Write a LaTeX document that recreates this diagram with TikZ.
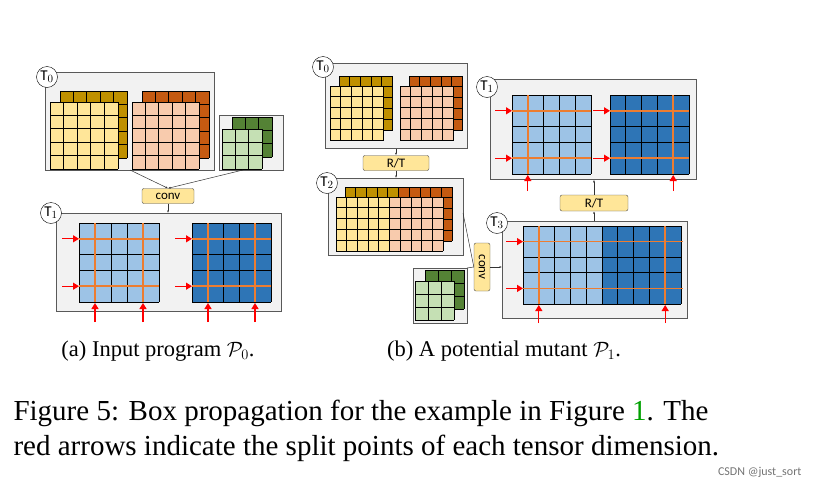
\documentclass[tikz,border=0pt]{standalone}
\usepackage{fontspec}
\usepackage{graphicx}
\setmainfont{Liberation Serif}
\newfontfamily\dfont{Carlito}
\usetikzlibrary{arrows.meta}
\definecolor{ylight}{HTML}{FFE699}\definecolor{ydark}{HTML}{BF9000}
\definecolor{plight}{HTML}{F8CBAD}\definecolor{pdark}{HTML}{C55A11}
\definecolor{glight}{HTML}{C5E0B4}\definecolor{gdark}{HTML}{548235}
\definecolor{lb}{HTML}{9DC3E6}\definecolor{db}{HTML}{2E75B6}
\definecolor{og}{HTML}{ED7D31}\definecolor{bx}{HTML}{F2F2F2}
\definecolor{lnk}{HTML}{00A000}
\tikzset{
 gl/.style={black,line width=0.8pt},
 ol/.style={og,line width=1.6pt},
 box/.style={draw=black!65,fill=bx,line width=0.8pt,anchor=north west,inner sep=0pt},
 tl/.style={draw=black,fill=white,circle,minimum size=21pt,inner sep=0pt,font=\dfont\fontsize{15}{17}\selectfont},
 op/.style={draw=black!70,fill=ylight,rounded corners=2pt,font=\dfont\fontsize{13}{15}\selectfont,minimum height=15pt,inner sep=1pt},
 ln/.style={black!80,line width=0.5pt},
 ar/.style={black!80,line width=0.5pt,-{Latex[length=2.5pt,width=2pt]}},
 ra/.style={red,line width=1.3pt,-{Triangle[length=6pt,width=7pt]}},
}
\newcommand\cgrid[7]{%
 \fill[#7] (#1,#2) rectangle ++({#3*#5},{#4*#6});
 \foreach \i in {0,...,#3} \draw[gl] ({#1+\i*#5},#2) -- ++(0,{#4*#6});
 \foreach \j in {0,...,#4} \draw[gl] (#1,{#2+\j*#6}) -- ++({#3*#5},0);}
\begin{document}
\begin{tikzpicture}[x=1pt,y=-1pt]
\useasboundingbox (0,0) rectangle (813,490);
% ===== left panel =====
\node[box,minimum width=169pt,minimum height=98pt] (a0) at (45,72) {};
\cgrid{60}{91}{5}{5}{13.4}{13.4}{ydark}
\cgrid{50}{102}{5}{5}{13.6}{13.4}{ylight}
\cgrid{142}{91}{5}{5}{13.4}{13.4}{pdark}
\cgrid{132}{102}{5}{5}{13.4}{13.4}{plight}
\node[box,minimum width=64pt,minimum height=55pt] (ag) at (219,115) {};
\cgrid{232}{117}{3}{3}{13.3}{13.3}{gdark}
\cgrid{222}{129}{3}{3}{13.3}{13.3}{glight}
\node[tl] (a0l) at (47,77) {T$_0$};
\node[op,minimum width=52pt] (aconv) at (168,196) {conv};
\coordinate (a0b) at (130,170);
\coordinate (agb) at (243,170);
\draw[ar] (a0b) -- (aconv.north);
\draw[ar] (agb) -- (aconv.north);
\node[box,minimum width=225pt,minimum height=98pt] (a1) at (56,213) {};
\draw[ar] (aconv.south) -- (aconv.south |- a1.north);
\cgrid{79}{223}{5}{5}{16}{15.8}{lb}
\cgrid{192}{223}{5}{5}{15.8}{15.8}{db}
\foreach \y in {238.8,286.2}{
 \draw[ol] (79,\y) -- (159,\y); \draw[ol] (192,\y) -- (271,\y);
 \draw[ra] (62,\y) -- (79,\y); \draw[ra] (175,\y) -- (192,\y);}
\foreach \x in {95,143,208,255}{
 \draw[ol] (\x,223) -- (\x,302); \draw[ra] (\x,322) -- (\x,303);}
\node[tl] (a1l) at (51,213) {T$_1$};
% ===== right panel =====
\node[box,minimum width=142pt,minimum height=85pt] (b0) at (325,63) {};
\cgrid{339}{76}{5}{5}{10.7}{10.8}{ydark}
\cgrid{330}{86}{5}{5}{10.7}{10.8}{ylight}
\cgrid{409}{76}{5}{5}{10.7}{10.8}{pdark}
\cgrid{400}{86}{5}{5}{10.7}{10.8}{plight}
\node[tl] (b0l) at (323,67) {T$_0$};
\node[op,minimum width=66pt] (brt1) at (396,163) {R/T};
\node[box,minimum width=135pt,minimum height=77pt] (b2) at (328,178) {};
\draw[ar] (brt1.north |- b0.south) -- (brt1.north);
\draw[ar] (brt1.south) -- (brt1.south |- b2.north);
\cgrid{345}{187}{5}{5}{10.7}{10.8}{ydark}
\cgrid{398.5}{187}{5}{5}{10.7}{10.8}{pdark}
\cgrid{336}{197}{5}{5}{10.7}{10.8}{ylight}
\cgrid{389.5}{197}{5}{5}{10.7}{10.8}{plight}
\node[tl] (b2l) at (327,183) {T$_2$};
\node[box,minimum width=54pt,minimum height=55pt] (bg) at (413,268) {};
\cgrid{425}{270}{3}{3}{13}{13}{gdark}
\cgrid{415}{281}{3}{3}{13}{13}{glight}
\node[op,minimum width=16pt,minimum height=48pt] (bconv) at (482,267) {\rotatebox{-90}{conv}};
\coordinate (b2r) at (463,213);
\coordinate (bgr) at (467,268);
\draw[ln] (b2r) -- (bconv.west);
\draw[ln] (bgr) -- (bconv.west);
\node[box,minimum width=185pt,minimum height=97pt] (b3) at (502,221) {};
\draw[ar] (bconv.east) -- (bconv.east -| b3.west);
\cgrid{523}{226}{5}{5}{15.8}{15.6}{lb}
\cgrid{602}{226}{5}{5}{15.8}{15.6}{db}
\foreach \y in {241.6,288.4}{
 \draw[ol] (523,\y) -- (683,\y); \draw[ra] (506,\y) -- (523,\y);}
\foreach \x in {538.8,665.2}{
 \draw[ol] (\x,226) -- (\x,304); \draw[ra] (\x,323) -- (\x,305);}
\node[tl] (b3l) at (497,223) {T$_3$};
\node[box,minimum width=206pt,minimum height=100pt] (b1) at (490,79) {};
\node[op,minimum width=68pt,minimum height=16pt] (brt2) at (594,203) {R/T};
\draw[ar] (brt2.south |- b3.north) -- (brt2.south);
\draw[ar] (brt2.north) -- (brt2.north |- b1.south);
\cgrid{512}{95}{5}{5}{15.8}{15.8}{lb}
\cgrid{610}{95}{5}{5}{15.8}{15.8}{db}
\foreach \y in {110.8,158.2}{
 \draw[ol] (512,\y) -- (591,\y); \draw[ol] (610,\y) -- (689,\y);
 \draw[ra] (495,\y) -- (512,\y); \draw[ra] (593,\y) -- (610,\y);}
\foreach \x in {527.8,673.2}{
 \draw[ol] (\x,95) -- (\x,174); \draw[ra] (\x,191) -- (\x,175);}
\node[tl] (b1l) at (487,87) {T$_1$};
% ===== captions =====
\node[font=\fontsize{22.5}{26}\selectfont] (capa) at (158,351) {(a)\ Input program $\mathcal{P}_0$.};
\node[font=\fontsize{22.5}{26}\selectfont] (capb) at (504,351) {(b)\ A potential mutant $\mathcal{P}_1$.};
\node[anchor=west,align=left,font=\fontsize{29}{35}\selectfont] (fig) at (10,431) {Figure 5: Box propagation for the example in Figure \textcolor{lnk}{1}. The\\ red arrows indicate the split points of each tensor dimension.};
\node[anchor=east,font=\dfont\fontsize{12}{14}\selectfont,text=black!55] (wm) at (805,472) {CSDN @just\_sort};
\end{tikzpicture}
\end{document}
